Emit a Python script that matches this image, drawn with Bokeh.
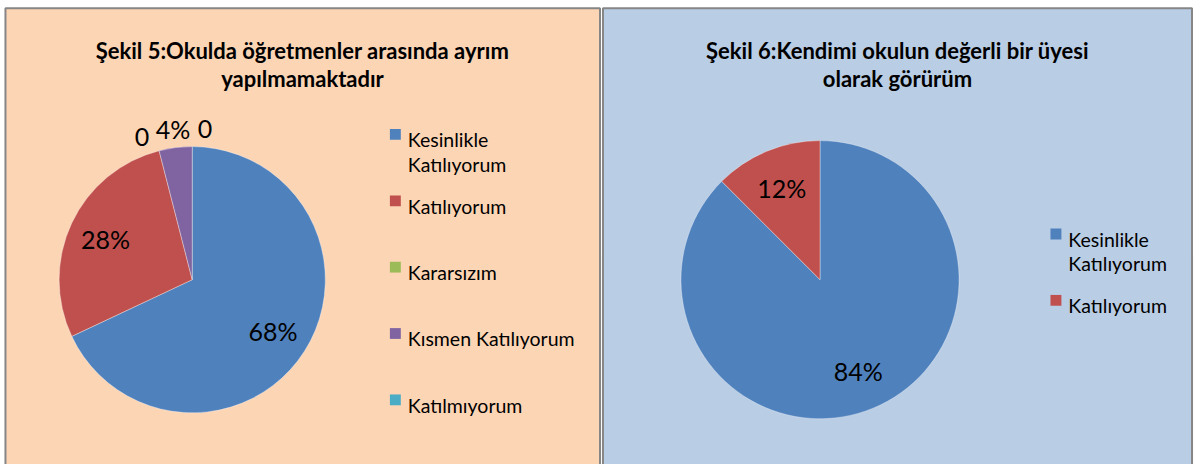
import math
from bokeh.plotting import figure
from bokeh.models import Range1d
from bokeh.core.properties import value
from bokeh.embed import file_html
from bokeh.resources import INLINE

# ---------------- data ----------------
left_title = ["Şekil 5:Okulda öğretmenler arasında ayrım", "yapılmamaktadır"]
left_categories = ["Kesinlikle\nKatılıyorum", "Katılıyorum", "Kararsızım",
                   "Kısmen Katılıyorum", "Katılmıyorum"]
left_values = [68, 28, 0, 4, 0]
left_labels = ["68%", "28%", "0", "4%", "0"]

right_title = ["Şekil 6:Kendimi okulun değerli bir üyesi", "olarak görürüm"]
right_categories = ["Kesinlikle\nKatılıyorum", "Katılıyorum"]
right_values = [84, 12]
right_labels = ["84%", "12%"]

colors = ["#4F81BD", "#C0504D", "#9BBB59", "#8064A2", "#4BACC6"]

# ---------------- layout ----------------
W, H = 1196, 464          # figure size (fits the window with the 8px margin)
REF_W, REF_H = 1204, 472  # coordinate system of the reference picture
FONT = "Lato"


def Y(py):
    return REF_H - py


p = figure(width=W, height=H, x_range=Range1d(0, REF_W), y_range=Range1d(0, REF_H),
           x_axis_type=None, y_axis_type=None, toolbar_location=None,
           output_backend="svg", min_border=0)
p.grid.visible = False
p.outline_line_color = None
p.background_fill_color = "white"
p.border_fill_color = "white"

panels = [
    dict(left=5, right=603.5, bg="#FCD5B5", title=left_title, cats=left_categories,
         vals=left_values, labels=left_labels, cx=193, cy=284, r=134,
         tx=304, lx=392),
    dict(left=606.5, right=1199.5, bg="#B9CDE5", title=right_title, cats=right_categories,
         vals=right_values, labels=right_labels, cx=825, cy=284, r=140,
         tx=903, lx=1057),
]

for pn in panels:
    # panel background + border
    p.quad(left=pn["left"], right=pn["right"], top=Y(8), bottom=Y(500),
           fill_color=pn["bg"], line_color="#868686", line_width=2)

    # title
    p.text(x=[pn["tx"]] * len(pn["title"]), y=[Y(51), Y(79)], text=pn["title"],
           text_font=value(FONT), text_font_style="bold", text_font_size="22px",
           text_color="black", text_align="center", text_baseline="alphabetic")

    vals = pn["vals"]
    total = float(sum(vals))
    cx, cy, r = pn["cx"], pn["cy"], pn["r"]

    # wedges (angles clockwise from 12 o'clock)
    cum = 0.0
    xs, ys, sa, ea, fc = [], [], [], [], []
    mids = []
    for i, v in enumerate(vals):
        a0 = 360.0 * cum / total
        cum += v
        a1 = 360.0 * cum / total
        mids.append((a0 + a1) / 2.0)
        if v > 0:
            xs.append(cx)
            ys.append(Y(cy))
            sa.append(math.radians(90 - a1))
            ea.append(math.radians(90 - a0))
            fc.append(colors[i])
    p.wedge(x=xs, y=ys, radius=r, start_angle=sa, end_angle=ea,
            direction="anticlock", fill_color=fc, line_color="white",
            line_alpha=0.35, line_width=1)

    # data labels: large slices inside, small/zero slices outside (spread)
    inside, outside = [], []
    for i, v in enumerate(vals):
        if v / total >= 0.1:
            inside.append(i)
        else:
            outside.append(i)
    lab_x, lab_y, lab_t = [], [], []
    for i in inside:
        a = math.radians(mids[i])
        d = 0.72 * r
        lab_x.append(cx + d * math.sin(a))
        lab_y.append(Y(cy - d * math.cos(a)))
        lab_t.append(pn["labels"][i])
    if outside:
        angs = [mids[i] for i in outside]
        m = sum(angs) / len(angs)
        n = len(angs)
        spread = [m + (k - (n - 1) / 2.0) * 12.0 for k in range(n)]
        for k, i in enumerate(outside):
            a = math.radians(spread[k])
            d = r + 20
            lab_x.append(cx + d * math.sin(a))
            lab_y.append(Y(cy - d * math.cos(a)))
            lab_t.append(pn["labels"][i])
    p.text(x=lab_x, y=lab_y, text=lab_t, text_font=value(FONT),
           text_font_size="25px", text_color="black", text_align="center",
           text_baseline="middle")

    # legend
    n = len(pn["cats"])
    mid = 276.75
    step = 67.5
    sq_x, sq_y, sq_c = [], [], []
    tx, ty, tt = [], [], []
    for i, cat in enumerate(pn["cats"]):
        base = mid + (i - (n - 1) / 2.0) * step
        sq_x.append(pn["lx"] + 5.5)
        sq_y.append(Y(base - 5.5))
        sq_c.append(colors[i])
        for j, line in enumerate(cat.split("\n")):
            tx.append(pn["lx"] + 18)
            ty.append(Y(base + 25 * j))
            tt.append(line)
    p.rect(x=sq_x, y=sq_y, width=11, height=11, fill_color=sq_c, line_color=None)
    p.text(x=tx, y=ty, text=tt, text_font=value(FONT), text_font_size="19.5px",
           text_color="black", text_align="left", text_baseline="alphabetic")

open("out.html", "w").write(file_html(p, INLINE))
